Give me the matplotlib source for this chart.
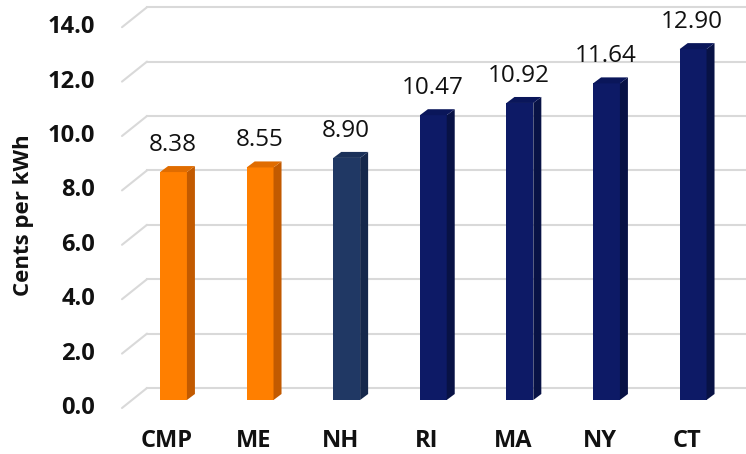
import matplotlib
matplotlib.use('Agg')
import matplotlib.pyplot as plt
from matplotlib.patches import Polygon
from matplotlib.transforms import ScaledTranslation
import numpy as np

# ---- data ----
categories = ['CMP', 'ME', 'NH', 'RI', 'MA', 'NY', 'CT']
values = [8.38, 8.55, 8.90, 10.47, 10.92, 11.64, 12.90]
value_labels = ['8.38', '8.55', '8.90', '10.47', '10.92', '11.64', '12.90']
yticks = [0, 2, 4, 6, 8, 10, 12, 14]
ytick_labels = ['0.0', '2.0', '4.0', '6.0', '8.0', '10.0', '12.0', '14.0']
ylabel = 'Cents per kWh'

# ---- styles ----
front_colors = ['#FF7F00', '#FF7F00', '#203864', '#0D1A66', '#0D1A66', '#0D1A66', '#0D1A66']
side_colors = ['#C25A00', '#C25A00', '#16284B', '#081245', '#081245', '#081245', '#081245']
top_colors = ['#E06C00', '#E06C00', '#1B3159', '#0A165A', '#0A165A', '#0A165A', '#0A165A']
grid_color = '#D9D9D9'
text_color = '#111111'

plt.rcParams['font.family'] = ['Open Sans', 'DejaVu Sans']

W, H = 746, 454
DPI = 100
fig = plt.figure(figsize=(W / DPI, H / DPI), dpi=DPI)
fig.patch.set_facecolor('white')

ax_left, ax_bottom_px = 122, 400   # pixel positions (from left / from top)
ax = fig.add_axes([ax_left / W, (H - ax_bottom_px) / H, 1 - ax_left / W, ax_bottom_px / H])
px_x = 86.6   # pixels per category
px_y = 27.2   # pixels per unit value
first_center = 173.5
ax.set_xlim(-(first_center - ax_left) / px_x, (W - first_center) / px_x)
ax.set_ylim(0, ax_bottom_px / px_y)
for s in ax.spines.values():
    s.set_visible(False)

x = np.arange(len(categories))
bw = 0.31
bdx, bdy = 8 / px_x, 6 / px_y          # bar depth
wdx = 25 / px_x                         # wall depth
w_front, w_back = -8 / px_y, 12 / px_y  # slant endpoints relative to value

xl, xr = ax.get_xlim()
for v in yticks:
    ax.plot([xl, xl + wdx], [v + w_front, v + w_back], color=grid_color, lw=1.5,
            clip_on=False, zorder=1, solid_capstyle='round')
    ax.plot([xl + wdx, xr], [v + w_back, v + w_back], color=grid_color, lw=1.5,
            clip_on=False, zorder=1)

ax.bar(x, values, width=bw, color=front_colors, zorder=3, linewidth=0)
for xi, v, sc, tc in zip(x, values, side_colors, top_colors):
    r = xi + bw / 2
    l = xi - bw / 2
    ax.add_patch(Polygon([(r, 0), (r + bdx, bdy), (r + bdx, v + bdy), (r, v)],
                         closed=True, facecolor=sc, edgecolor='none', zorder=3))
    ax.add_patch(Polygon([(l, v), (r, v), (r + bdx, v + bdy), (l + bdx, v + bdy)],
                         closed=True, facecolor=tc, edgecolor='none', zorder=3))

for xi, v, lab in zip(x, values, value_labels):
    ax.annotate(lab, (xi, v), xytext=(-0.7, 19.4), textcoords='offset points',
                ha='center', va='center', fontsize=17.5, color=text_color)

ax.set_yticks(yticks, ytick_labels)
ax.tick_params(axis='y', length=0, pad=19.4, labelsize=17, labelcolor=text_color)
for t in ax.get_yticklabels():
    t.set_fontweight('bold')
    t.set_verticalalignment('center')
    t.set_transform(t.get_transform() + ScaledTranslation(0, -8 / DPI, fig.dpi_scale_trans))

ax.set_xticks(x, categories)
ax.tick_params(axis='x', length=0, pad=29.5, labelsize=17, labelcolor=text_color)
for t in ax.get_xticklabels():
    t.set_fontweight('bold')
    t.set_verticalalignment('center')
    t.set_transform(t.get_transform() + ScaledTranslation(-6.5 / DPI, 0, fig.dpi_scale_trans))

ax.set_ylabel(ylabel, fontsize=16, fontweight='bold', color=text_color, va='center')
ax.yaxis.set_label_coords((24 - ax_left) / (W - ax_left), (ax_bottom_px - 215) / ax_bottom_px)

fig.savefig('out.png', dpi=DPI, facecolor='white')
